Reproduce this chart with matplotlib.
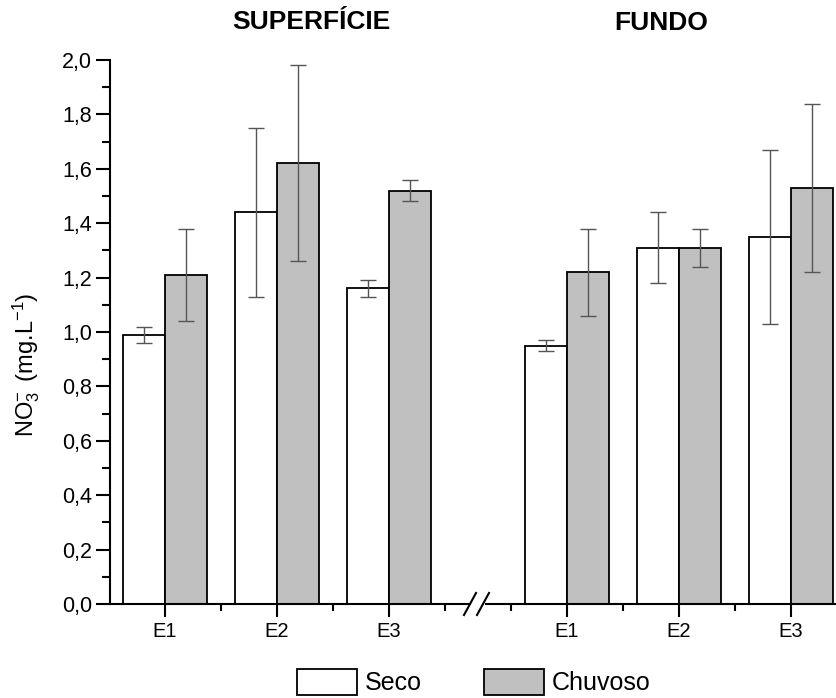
import matplotlib
matplotlib.use("Agg")
import matplotlib.pyplot as plt
from matplotlib.lines import Line2D
from matplotlib.ticker import MultipleLocator, FixedLocator, FuncFormatter
import numpy as np

plt.rcParams['font.family'] = ['Liberation Sans', 'DejaVu Sans']
plt.rcParams['mathtext.fontset'] = 'custom'
plt.rcParams['mathtext.rm'] = 'Liberation Sans'
plt.rcParams['mathtext.it'] = 'Liberation Sans:italic'
plt.rcParams['mathtext.bf'] = 'Liberation Sans:bold'

# Nitrate concentrations (mg/L) per station, dry (Seco) and rainy (Chuvoso) season
stations = ["E1", "E2", "E3"]
sup_seco = [0.99, 1.44, 1.16]
sup_seco_err = [0.03, 0.31, 0.03]
sup_chuv = [1.21, 1.62, 1.52]
sup_chuv_err = [0.17, 0.36, 0.04]
fun_seco = [0.95, 1.31, 1.35]
fun_seco_err = [0.02, 0.13, 0.32]
fun_chuv = [1.22, 1.31, 1.53]
fun_chuv_err = [0.16, 0.07, 0.31]

W, H = 837, 698
fig = plt.figure(figsize=(W / 100, H / 100), dpi=100)

def fx(px):
    return px / W

def fy(py):
    return 1 - py / H

y_bottom, y_top = 604, 60
ax1 = fig.add_axes([fx(110), fy(y_bottom), fx(470) - fx(110), fy(y_top) - fy(y_bottom)])
ax2 = fig.add_axes([fx(486), fy(y_bottom), fx(837) - fx(486), fy(y_top) - fy(y_bottom)])

unit = 112.0  # pixels per category
ax1.set_xlim((110 - 165) / unit, (470 - 165) / unit)
ax2.set_xlim((486 - 567) / unit, (837 - 567) / unit)

bw = 0.375
x = np.arange(len(stations))
err_kw = dict(ecolor="#555555", elinewidth=1.0, capsize=6, capthick=1.0)

for ax, seco, seco_e, chuv, chuv_e in [
    (ax1, sup_seco, sup_seco_err, sup_chuv, sup_chuv_err),
    (ax2, fun_seco, fun_seco_err, fun_chuv, fun_chuv_err),
]:
    ax.bar(x - bw / 2, seco, bw, yerr=seco_e, color="white",
           edgecolor="black", linewidth=1.3, error_kw=err_kw, label="Seco")
    ax.bar(x + bw / 2, chuv, bw, yerr=chuv_e, color="#c0c0c0",
           edgecolor="black", linewidth=1.3, error_kw=err_kw, label="Chuvoso")
    ax.set_ylim(0, 2.0)
    ax.set_xticks(x)
    ax.set_xticklabels(stations, fontsize=14.5)
    ax.xaxis.set_minor_locator(FixedLocator(list(x[:-1] + 0.5) + ([2.5] if ax is ax1 else [-0.5])))
    ax.tick_params(axis="x", which="major", length=9, width=1.5, pad=4)
    ax.tick_params(axis="x", which="minor", length=5, width=1.5)
    ax.spines["top"].set_visible(False)
    ax.spines["right"].set_visible(False)
    ax.spines["bottom"].set_linewidth(1.5)

ax1.spines["left"].set_linewidth(1.5)
ax1.yaxis.set_major_locator(MultipleLocator(0.2))
ax1.yaxis.set_minor_locator(MultipleLocator(0.1))
ax1.yaxis.set_major_formatter(FuncFormatter(lambda v, p: f"{v:.1f}".replace(".", ",")))
ax1.tick_params(axis="y", which="major", length=10, width=1.5, labelsize=15.5, pad=3)
ax1.tick_params(axis="y", which="minor", length=6, width=1.5)
ax1.set_ylabel(r"NO$_3^{\mathrm{-}}\,$ (mg.L$^{\mathrm{-1}}$)", fontsize=17)
ax1.yaxis.set_label_coords(-0.19, 0.44)

ax2.spines["left"].set_visible(False)
ax2.tick_params(axis="y", which="both", left=False, labelleft=False)

# axis break marks
for x0 in (464, 477):
    fig.add_artist(Line2D([fx(x0), fx(x0 + 12)], [fy(615), fy(593)],
                          transform=fig.transFigure, color="black", linewidth=1.5))

fig.text(fx(311), fy(22), "SUPERFÍCIE", ha="center", va="center",
         fontsize=19, fontweight="bold")
fig.text(fx(661), fy(23), "FUNDO", ha="center", va="center",
         fontsize=19, fontweight="bold")

handles, labels = ax1.get_legend_handles_labels()
fig.legend(handles, labels, loc="center", bbox_to_anchor=(fx(474), fy(682)),
           ncol=2, frameon=False, fontsize=18, handlelength=2.4, handleheight=1.25,
           handletextpad=0.3, columnspacing=2.5, borderpad=0, borderaxespad=0)

fig.savefig("out.png", dpi=100)
